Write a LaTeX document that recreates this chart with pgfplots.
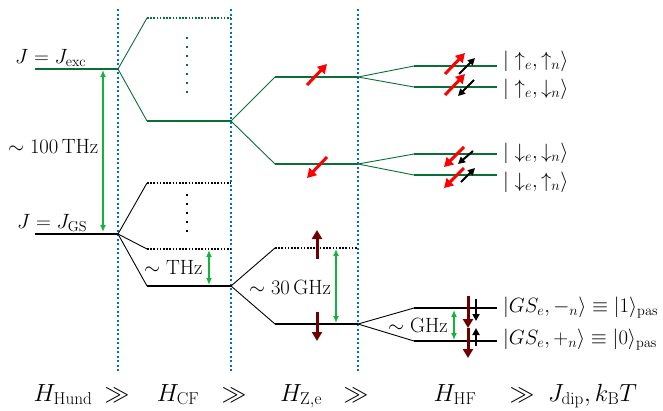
\documentclass[border=0pt]{standalone}
\usepackage{pgfplots}
\pgfplotsset{compat=1.18}
\usetikzlibrary{arrows.meta}
\definecolor{lvlg}{RGB}{10,110,55}
\definecolor{arrg}{RGB}{20,180,60}
\definecolor{vblue}{RGB}{0,110,200}
\definecolor{mar}{RGB}{110,0,0}
\begin{document}
\begin{tikzpicture}[
  lvl/.style={line width=2.2bp},
  con/.style={line width=0.9bp},
  dlvl/.style={line width=2.2bp, dash pattern=on 1.6bp off 1.6bp},
  vdots/.style={line width=2.2bp, dash pattern=on 2bp off 7bp},
  garr/.style={arrg, line width=1.5bp, {Latex[length=7bp,width=6bp]}-{Latex[length=7bp,width=6bp]}},
  rarr/.style={red, line width=3bp, -{Triangle[length=9bp,width=10bp]}},
  barr/.style={black, line width=2bp, -{Triangle[length=7bp,width=7bp]}},
  marr/.style={mar, line width=3bp, -{Triangle[length=9bp,width=10bp]}},
  txt/.style={font=\fontsize{20.5}{24}\selectfont, inner sep=0pt},
  btxt/.style={font=\fontsize{26}{30}\selectfont, inner sep=0pt},
]
\begin{axis}[x=1bp, y=1bp, xmin=0, xmax=663, ymin=0, ymax=410, y dir=reverse,
  hide axis, clip=false, scale only axis]
\addplot[draw=none] coordinates {(0,0) (663,410)};
% blue separators
\addplot[vblue, line width=1.5bp, dash pattern=on 2bp off 2.5bp] coordinates {(118,9) (118,373)};
\addplot[vblue, line width=1.5bp, dash pattern=on 2bp off 2.5bp] coordinates {(231,9) (231,373)};
\addplot[vblue, line width=1.5bp, dash pattern=on 2bp off 2.5bp] coordinates {(358,9) (358,373)};
% ---- green (excited) manifold
\addplot[lvlg, lvl] coordinates {(35,69) (118,69)};
\addplot[lvlg, con] coordinates {(118,69) (147,18)};
\addplot[lvlg, con] coordinates {(118,69) (147,121)};
\addplot[lvlg, dlvl] coordinates {(147,18) (231,18)};
\addplot[lvlg, vdots] coordinates {(187,37) (187,93)};
\addplot[lvlg, lvl] coordinates {(147,121) (231,121)};
\addplot[lvlg, con] coordinates {(231,121) (275,77)};
\addplot[lvlg, con] coordinates {(231,121) (275,164)};
\addplot[lvlg, lvl] coordinates {(275,77) (358,77)};
\addplot[lvlg, lvl] coordinates {(275,164) (358,164)};
\addplot[lvlg, con] coordinates {(358,77) (414,66)};
\addplot[lvlg, con] coordinates {(358,77) (414,87)};
\addplot[lvlg, lvl] coordinates {(414,66) (497,66)};
\addplot[lvlg, lvl] coordinates {(414,87) (497,87)};
\addplot[lvlg, con] coordinates {(358,164) (414,154)};
\addplot[lvlg, con] coordinates {(358,164) (414,175)};
\addplot[lvlg, lvl] coordinates {(414,154) (497,154)};
\addplot[lvlg, lvl] coordinates {(414,175) (497,175)};
% ---- black (ground) manifold
\addplot[black, lvl] coordinates {(35,234) (118,234)};
\addplot[black, con] coordinates {(118,234) (147,183)};
\addplot[black, con] coordinates {(118,234) (147,249)};
\addplot[black, con] coordinates {(118,234) (147,286)};
\addplot[black, dlvl] coordinates {(147,183) (231,183)};
\addplot[black, dlvl] coordinates {(147,249) (231,249)};
\addplot[black, vdots] coordinates {(187,194) (187,234)};
\addplot[black, lvl] coordinates {(147,286) (231,286)};
\addplot[black, con] coordinates {(231,286) (275,248)};
\addplot[black, con] coordinates {(231,286) (275,324)};
\addplot[black, dlvl] coordinates {(275,248) (358,248)};
\addplot[black, lvl] coordinates {(275,324) (358,324)};
\addplot[black, con] coordinates {(358,324) (414,308)};
\addplot[black, con] coordinates {(358,324) (414,341)};
\addplot[black, lvl] coordinates {(414,308) (497,308)};
\addplot[black, lvl] coordinates {(414,341) (497,341)};
% ---- green energy-gap arrows
\addplot[garr] coordinates {(103,70) (103,232)};
\addplot[garr] coordinates {(209,250) (209,285)};
\addplot[garr] coordinates {(336,249) (336,323)};
\addplot[garr] coordinates {(454,310) (454,340)};
% ---- spin arrows
\addplot[rarr] coordinates {(307,85) (327,64)};
\addplot[rarr] coordinates {(327,157) (307,178)};
\addplot[rarr] coordinates {(445,74) (465,53)};
\addplot[barr] coordinates {(459,74) (475,58)};
\addplot[rarr] coordinates {(445,95) (465,74)};
\addplot[barr] coordinates {(474,80) (458,96)};
\addplot[rarr] coordinates {(464,147) (444,167)};
\addplot[barr] coordinates {(473,151) (458,164)};
\addplot[rarr] coordinates {(464,168) (444,188)};
\addplot[barr] coordinates {(461,182) (475,168)};
\addplot[marr] coordinates {(317,259) (317,230)};
\addplot[marr] coordinates {(317,312) (317,341)};
\addplot[marr] coordinates {(468,296) (468,328)};
\addplot[marr] coordinates {(468,328) (468,358)};
\addplot[barr] coordinates {(476,299) (476,321)};
\addplot[barr] coordinates {(476,346) (476,328)};
% ---- labels
\node[txt, anchor=base west] at (axis cs:15,63) {$J=J_{\mathrm{exc}}$};
\node[txt, anchor=base west] at (axis cs:8,153) {$\sim 100\,\mathrm{THz}$};
\node[txt, anchor=base west] at (axis cs:17,228) {$J=J_{\mathrm{GS}}$};
\node[txt, anchor=base west] at (axis cs:144,274) {$\sim\mathrm{THz}$};
\node[txt, anchor=base west] at (axis cs:249,294) {$\sim 30\,\mathrm{GHz}$};
\node[txt, anchor=base west] at (axis cs:388,332) {$\sim\mathrm{GHz}$};
\node[txt, anchor=west] at (axis cs:503,61) {$|\uparrow_e,\uparrow_n\rangle$};
\node[txt, anchor=west] at (axis cs:503,89) {$|\uparrow_e,\downarrow_n\rangle$};
\node[txt, anchor=west] at (axis cs:503,153) {$|\downarrow_e,\downarrow_n\rangle$};
\node[txt, anchor=west] at (axis cs:503,182) {$|\downarrow_e,\uparrow_n\rangle$};
\node[txt, anchor=west, overlay] at (axis cs:503,308) {$|GS_e,-_n\rangle\equiv|1\rangle_{\mathrm{pas}}$};
\node[txt, anchor=west, overlay] at (axis cs:503,340) {$|GS_e,+_n\rangle\equiv|0\rangle_{\mathrm{pas}}$};
\node[btxt, anchor=base] at (axis cs:63,401) {$H_{\mathrm{Hund}}$};
\node[btxt, anchor=base] at (axis cs:117,401) {$\gg$};
\node[btxt, anchor=base] at (axis cs:178,401) {$H_{\mathrm{CF}}$};
\node[btxt, anchor=base] at (axis cs:234,401) {$\gg$};
\node[btxt, anchor=base] at (axis cs:301,401) {$H_{\mathrm{Z,e}}$};
\node[btxt, anchor=base] at (axis cs:356,401) {$\gg$};
\node[btxt, anchor=base] at (axis cs:455,401) {$H_{\mathrm{HF}}$};
\node[btxt, anchor=base] at (axis cs:522,401) {$\gg$};
\node[btxt, anchor=base west] at (axis cs:548,401) {$J_{\mathrm{dip}},k_{\mathrm{B}}T$};
\end{axis}
\end{tikzpicture}
\end{document}
